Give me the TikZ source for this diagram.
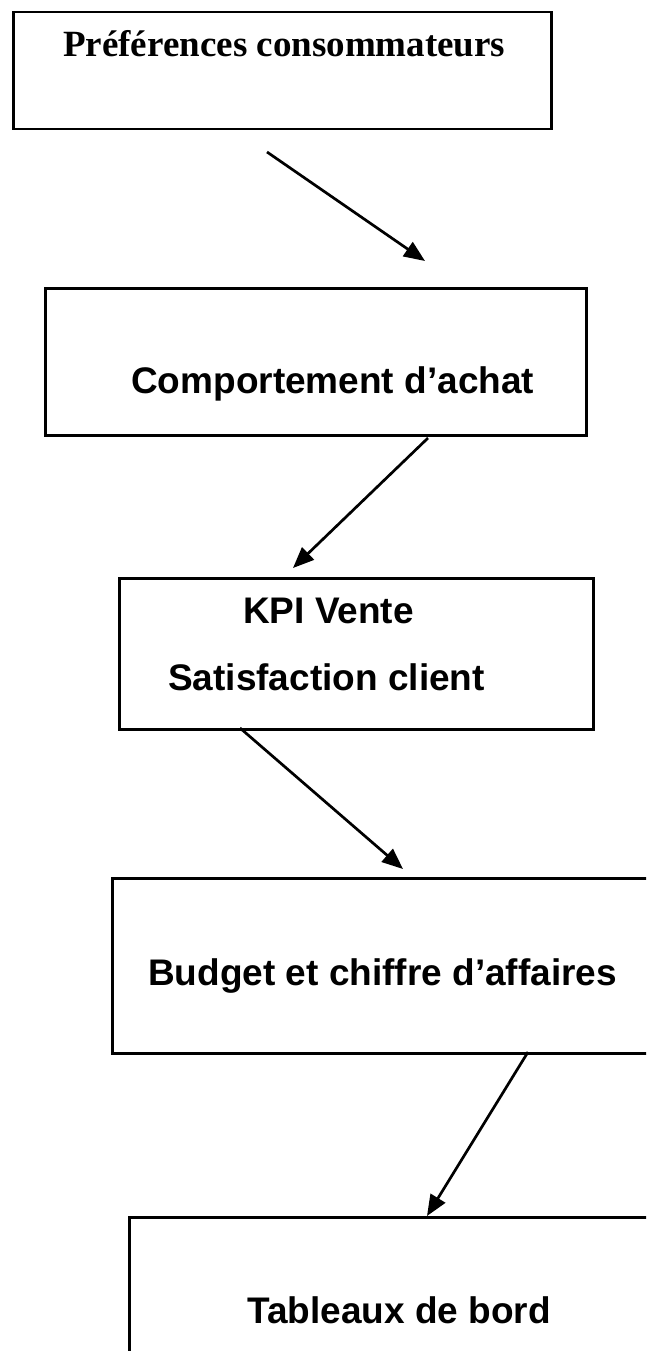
\documentclass[tikz,border=0pt]{standalone}
\usepackage{fontspec}
\setmainfont{Liberation Serif}
\newfontfamily\labelsans{Liberation Sans}
\usetikzlibrary{arrows.meta}

\tikzset{
  box/.style={draw=black, line width=2.5pt, fill=none, rectangle, anchor=north west, inner sep=0pt},
  serifhead/.style={anchor=base west, inner sep=0pt, font=\fontsize{37}{44}\selectfont\bfseries},
  sanstext/.style={anchor=base west, inner sep=0pt, font=\labelsans\fontsize{37}{44}\selectfont\bfseries},
  flow/.style={line width=2.7pt, -{Triangle[length=21pt,width=17pt]}}
}

\begin{document}
\begin{tikzpicture}[x=1pt, y=-1pt]
  \useasboundingbox (0,0) rectangle (646,1351);
  \clip (0,0) rectangle (646,1351);
  \fill[white] (0,0) rectangle (646,1351);

  % boxes
  \node[box, minimum width=538pt, minimum height=117pt] (b1) at (12,11) {};
  \node[box, minimum width=541pt, minimum height=147pt] (b2) at (44,287) {};
  \node[box, minimum width=474pt, minimum height=151pt] (b3) at (118,577) {};
  \node[box, minimum width=600pt, minimum height=175pt] (b4) at (111,877) {};
  \node[box, minimum width=600pt, minimum height=300pt] (b5) at (128,1216) {};

  % labels
  \node[serifhead] (t1) at (63,57) {Préférences consommateurs};
  \node[sanstext] (t2) at (131,393) {Comportement d’achat};
  \node[sanstext] (t3a) at (243,623) {KPI Vente};
  \node[sanstext] (t3b) at (168,690) {Satisfaction client};
  \node[sanstext] (t4) at (148,985) {Budget et chiffre d’affaires};
  \node[sanstext] (t5) at (247,1323) {Tableaux de bord};

  % connector end points
  \coordinate (a1s) at (267,152);
  \coordinate (a1e) at (425,261);
  \coordinate (a2s) at (428,438);
  \coordinate (a2e) at (293,568);
  \coordinate (a3s) at (240,728);
  \coordinate (a3e) at (403,869);
  \coordinate (a4s) at (528,1052);
  \coordinate (a4e) at (427,1216);

  % connectors
  \draw[flow] (a1s) -- (a1e);
  \draw[flow] (a2s) -- (a2e);
  \draw[flow] (a3s) -- (a3e);
  \draw[flow] (a4s) -- (a4e);
\end{tikzpicture}
\end{document}
